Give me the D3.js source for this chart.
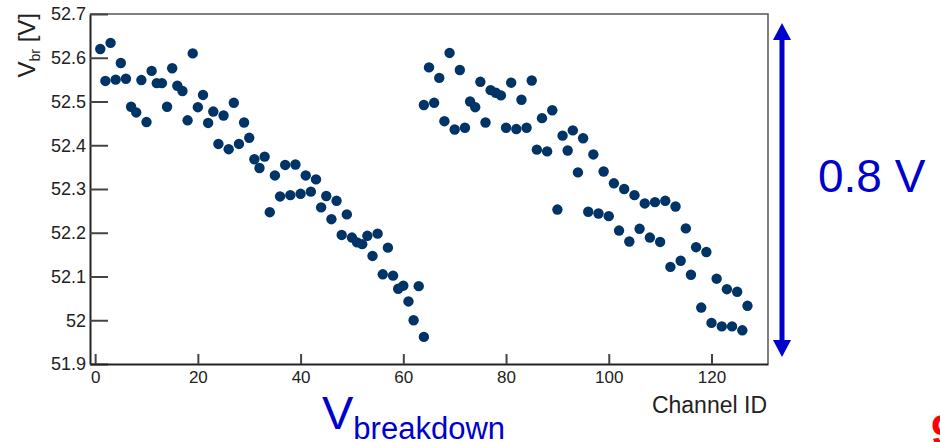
<!DOCTYPE html>
<html>
<head>
<meta charset="utf-8">
<script src="https://cdn.jsdelivr.net/npm/d3@7"></script>
<style>
body { margin: 0; background: #fff; }
svg { display: block; font-family: "Liberation Sans", Arial, sans-serif; }
</style>
</head>
<body>
<div id="chart"></div>
<script>
const width = 940, height = 442;

// first board
const chFirst = [
    1, 2, 3, 4, 5, 6, 7, 8, 9, 10, 11, 12, 13, 14, 15, 16,
    17, 18, 19, 20, 21, 22, 23, 24, 25, 26, 27, 28, 29, 30, 31, 32,
    33, 34, 35, 36, 37, 38, 39, 40, 41, 42, 43, 44, 45, 46, 47, 48,
    49, 50, 51, 52, 53, 54, 55, 56, 57, 58, 59, 60, 61, 62, 63, 64
];
const vbrFirst = [
    52.620, 52.547, 52.634, 52.550, 52.588, 52.552, 52.488, 52.475,
    52.549, 52.453, 52.570, 52.542, 52.542, 52.488, 52.576, 52.536,
    52.524, 52.457, 52.610, 52.487, 52.515, 52.451, 52.477, 52.403,
    52.468, 52.391, 52.497, 52.403, 52.452, 52.417, 52.368, 52.348,
    52.374, 52.247, 52.331, 52.283, 52.355, 52.286, 52.356, 52.289,
    52.331, 52.294, 52.322, 52.258, 52.284, 52.231, 52.273, 52.195,
    52.242, 52.189, 52.178, 52.174, 52.193, 52.147, 52.198, 52.105,
    52.166, 52.102, 52.072, 52.079, 52.043, 52.000, 52.078, 51.962
];

// second board
const chSecond = [
    64, 65, 66, 67, 68, 69, 70, 71, 72, 73, 74, 75, 76, 77, 78, 79,
    80, 81, 82, 83, 84, 85, 86, 87, 88, 89, 90, 91, 92, 93, 94, 95,
    96, 97, 98, 99, 100, 101, 102, 103, 104, 105, 106, 107, 108, 109, 110, 111,
    112, 113, 114, 115, 116, 117, 118, 119, 120, 121, 122, 123, 124, 125, 126, 127
];
const vbrSecond = [
    52.492, 52.578, 52.497, 52.554, 52.455, 52.611, 52.436, 52.572,
    52.440, 52.500, 52.487, 52.545, 52.452, 52.526, 52.520, 52.514,
    52.440, 52.543, 52.437, 52.504, 52.440, 52.548, 52.390, 52.462,
    52.386, 52.480, 52.253, 52.422, 52.388, 52.434, 52.338, 52.416,
    52.248, 52.379, 52.244, 52.340, 52.238, 52.313, 52.205, 52.300,
    52.180, 52.286, 52.209, 52.267, 52.189, 52.270, 52.179, 52.273,
    52.122, 52.260, 52.136, 52.210, 52.104, 52.167, 52.029, 52.156,
    51.994, 52.095, 51.986, 52.071, 51.986, 52.065, 51.977, 52.033
];

const yTicks = [51.9, 52, 52.1, 52.2, 52.3, 52.4, 52.5, 52.6, 52.7];
const yTickLabels = ['51.9', '52', '52.1', '52.2', '52.3', '52.4', '52.5', '52.6', '52.7'];
const xTicks = [0, 20, 40, 60, 80, 100, 120];

const points = chFirst.map((c, i) => ({ ch: c, v: vbrFirst[i] }))
    .concat(chSecond.map((c, i) => ({ ch: c, v: vbrSecond[i] })));

let svg = d3.select('#chart')
    .append('svg')
       .attr('width', width)
       .attr('height', height);

svg.append('rect').attr('width', width).attr('height', height).attr('fill', '#fff');

const x = d3.scaleLinear().domain([-1, 131]).range([90, 768]);
const y = d3.scaleLinear().domain([51.9, 52.7]).range([364, 14]);

// frame (top + right)
svg.append('path')
    .attr('d', `M${x.range()[0]},${y.range()[1]}H${x.range()[1]}V${y.range()[0]}`)
    .attr('fill', 'none')
    .attr('stroke', '#555')
    .attr('stroke-width', 1.5);

// y axis, ticks inward
let yAxis = svg.append('g')
    .attr('transform', `translate(${x.range()[0]},0)`)
    .call(d3.axisLeft(y)
        .tickValues(yTicks)
        .tickFormat((d, i) => yTickLabels[i])
        .tickSizeInner(-18)
        .tickSizeOuter(0)
        .tickPadding(4));
yAxis.select('.domain').attr('stroke', '#222').attr('stroke-width', 2);
yAxis.selectAll('.tick line').attr('stroke', '#444').attr('stroke-width', 2);
yAxis.selectAll('.tick text')
    .attr('font-size', 18)
    .attr('font-family', '"Liberation Sans", Arial, sans-serif')
    .attr('fill', '#222');

// x axis, ticks inward
let xAxis = svg.append('g')
    .attr('transform', `translate(0,${y.range()[0]})`)
    .call(d3.axisBottom(x)
        .tickValues(xTicks)
        .tickSizeInner(-10)
        .tickSizeOuter(0)
        .tickPadding(7));
xAxis.select('.domain').attr('stroke', '#222').attr('stroke-width', 2);
xAxis.selectAll('.tick line').attr('stroke', '#444').attr('stroke-width', 2);
xAxis.selectAll('.tick text')
    .attr('font-size', 17)
    .attr('font-family', '"Liberation Sans", Arial, sans-serif')
    .attr('fill', '#222');

// data points
svg.append('g')
    .selectAll('circle')
    .data(points)
    .enter()
    .append('circle')
      .attr('cx', d => x(d.ch))
      .attr('cy', d => y(d.v))
      .attr('r', 5.2)
      .attr('fill', '#003366');

// axis titles
let yTitle = svg.append('text')
    .attr('transform', 'translate(35,13) rotate(-90)')
    .attr('text-anchor', 'end')
    .attr('font-size', 24)
    .attr('fill', '#222');
yTitle.append('tspan').text('V');
yTitle.append('tspan').attr('font-size', 14).attr('dy', 5).text('br');
yTitle.append('tspan').attr('dy', -5).text(' [V]');

svg.append('text')
    .attr('x', 767)
    .attr('y', 413)
    .attr('text-anchor', 'end')
    .attr('font-size', 23)
    .attr('fill', '#222')
    .text('Channel ID');

// annotations
const blue = '#0000cc';
let vb = svg.append('text')
    .attr('x', 322)
    .attr('y', 429)
    .attr('fill', blue);
vb.append('tspan').attr('font-size', 47).text('V');
vb.append('tspan').attr('font-size', 31).attr('dy', 10).text('breakdown');

const ax = 782, aTop = 23, aBot = 357, head = 17, half = 9;
svg.append('line')
    .attr('x1', ax).attr('x2', ax)
    .attr('y1', aTop + head - 1).attr('y2', aBot - head + 1)
    .attr('stroke', blue)
    .attr('stroke-width', 5);
svg.append('path')
    .attr('d', `M${ax},${aTop}L${ax - half},${aTop + head}L${ax + half},${aTop + head}Z`)
    .attr('fill', blue);
svg.append('path')
    .attr('d', `M${ax},${aBot}L${ax - half},${aBot - head}L${ax + half},${aBot - head}Z`)
    .attr('fill', blue);

svg.append('text')
    .attr('x', 818)
    .attr('y', 191.5)
    .attr('font-size', 46)
    .attr('fill', blue)
    .text('0.8 V');

// slide number, cut off at the edge as in the original slide
svg.append('text')
    .attr('x', 931)
    .attr('y', 446)
    .attr('font-size', 44)
    .attr('font-weight', 'bold')
    .attr('fill', '#ff0000')
    .text('9');
</script>
</body>
</html>
